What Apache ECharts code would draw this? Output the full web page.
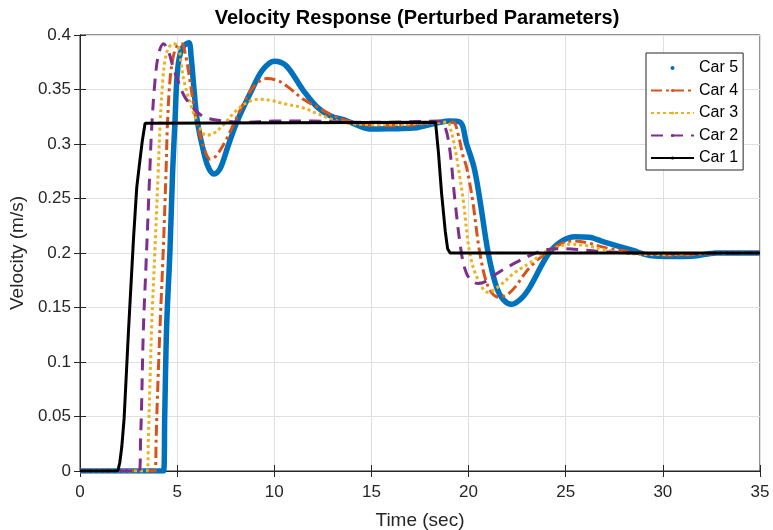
<!DOCTYPE html>
<html>
<head>
<meta charset="utf-8">
<title>Velocity Response</title>
<script src="https://cdn.jsdelivr.net/npm/echarts@6/dist/echarts.min.js"></script>
<style>
    html, body { margin: 0; padding: 0; background: #fff; }
    #chartEcharts { width: 773px; height: 530px; }
</style>
</head>
<body>
<div id="chartEcharts"></div>
<script>
// Data: [time (s), velocity (m/s)]
const car1 = [
    [0, 0], [1.95, 0], [2.05, 0.008], [2.15, 0.022], [2.27, 0.048], [2.5, 0.13], [2.75, 0.212],
    [2.92, 0.26], [3.05, 0.28], [3.2, 0.302], [3.35, 0.319], [3.45, 0.32],
    [18.3, 0.32], [18.45, 0.292], [18.61, 0.255], [18.8, 0.22], [18.92, 0.204], [19.05, 0.2], [35, 0.2]
];
const car2 = [
    [0, 0], [3.05, 0], [3.12, 0.03], [3.17, 0.06], [3.26, 0.129], [3.4, 0.19], [3.6, 0.278],
    [3.69, 0.315], [3.86, 0.358], [4.05, 0.383], [4.3, 0.392], [4.55, 0.385], [4.8, 0.37],
    [5.06, 0.357], [5.4, 0.343], [6.0, 0.33], [6.5, 0.324], [7.5, 0.321], [8.5, 0.32],
    [10, 0.321], [12, 0.321], [14, 0.32], [16, 0.32], [18.5, 0.321], [18.8, 0.315],
    [19.04, 0.294], [19.3, 0.248], [19.64, 0.199], [19.9, 0.181], [20.2, 0.174], [20.5, 0.172],
    [21.0, 0.175], [21.44, 0.181], [22.3, 0.19], [23.33, 0.199], [24.0, 0.203], [24.8, 0.204],
    [25.8, 0.203], [27, 0.201], [28.5, 0.2], [30, 0.1995], [35, 0.2]
];
const car3 = [
    [0, 0], [3.45, 0], [3.52, 0.03], [3.6, 0.08], [3.69, 0.134], [3.85, 0.2], [4.03, 0.276],
    [4.12, 0.318], [4.26, 0.358], [4.37, 0.376], [4.55, 0.388], [4.8, 0.392], [5.05, 0.39],
    [5.2, 0.375], [5.35, 0.358], [5.7, 0.336], [6.09, 0.318], [6.5, 0.308], [6.9, 0.31],
    [7.4, 0.318], [8.0, 0.33], [8.6, 0.338], [9.2, 0.341], [9.8, 0.34], [10.5, 0.337],
    [11.5, 0.333], [12.2, 0.328], [12.9, 0.323], [13.8, 0.319], [15, 0.318], [16.5, 0.318],
    [17.5, 0.319], [18.9, 0.32], [19.1, 0.312], [19.3, 0.296], [19.47, 0.2785], [19.73, 0.248],
    [20.07, 0.199], [20.5, 0.175], [21.0, 0.164], [21.6, 0.17], [22.3, 0.181], [23.33, 0.193],
    [23.85, 0.2], [24.5, 0.205], [25.2, 0.208], [26, 0.207], [27, 0.203], [28, 0.2],
    [29.5, 0.1985], [31, 0.199], [33, 0.2], [35, 0.2]
];
const car4 = [
    [0, 0], [3.85, 0], [3.92, 0.03], [3.97, 0.06], [4.12, 0.133], [4.28, 0.2], [4.43, 0.276],
    [4.5, 0.318], [4.63, 0.358], [4.8, 0.38], [5.0, 0.39], [5.23, 0.392], [5.45, 0.38],
    [5.66, 0.358], [6.0, 0.321], [6.43, 0.294], [6.7, 0.286], [7.0, 0.289], [7.5, 0.303],
    [7.95, 0.32], [8.5, 0.34], [9.0, 0.354], [9.6, 0.36], [10.2, 0.358], [10.8, 0.351],
    [11.5, 0.341], [12.2, 0.334], [12.9, 0.327], [13.6, 0.322], [14.5, 0.318], [15.5, 0.317],
    [16.5, 0.317], [17.5, 0.318], [18.5, 0.32], [19.2, 0.32], [19.45, 0.31], [19.7, 0.29],
    [19.9, 0.2785], [20.21, 0.248], [20.59, 0.199], [21.02, 0.1687], [21.53, 0.1595],
    [22.0, 0.162], [22.39, 0.1687], [23.16, 0.187], [24.0, 0.2], [24.7, 0.208], [25.4, 0.211],
    [26.2, 0.209], [27, 0.205], [28.8, 0.2], [30.5, 0.198], [32, 0.1988], [33.5, 0.2], [35, 0.2]
];
const car5 = [
    [0, 0], [4.3, 0], [4.36, 0.05], [4.46, 0.133], [4.63, 0.202], [4.77, 0.276], [4.89, 0.321],
    [4.98, 0.358], [5.1, 0.378], [5.3, 0.389], [5.6, 0.393], [5.72, 0.38], [5.83, 0.358],
    [6.04, 0.321], [6.43, 0.288], [6.65, 0.277], [6.9, 0.2725], [7.2, 0.277], [7.6, 0.297],
    [8.07, 0.32], [8.83, 0.349], [9.4, 0.368], [10.0, 0.376], [10.6, 0.372], [11.5, 0.349],
    [12.2, 0.334], [12.87, 0.326], [13.73, 0.3213], [14.3, 0.317], [15.0, 0.3137], [16, 0.314],
    [17.15, 0.3146], [17.8, 0.317], [18.53, 0.3198], [19.0, 0.321], [19.56, 0.32], [19.9, 0.3],
    [20.28, 0.2785], [20.59, 0.248], [21.02, 0.199], [21.44, 0.1687], [21.8, 0.157],
    [22.22, 0.153], [22.7, 0.158], [23.16, 0.1687], [24.1, 0.199], [24.8, 0.211], [25.5, 0.215],
    [26.2, 0.2145], [27, 0.21], [28.47, 0.2023], [29.33, 0.1977], [30.5, 0.1968], [31.5, 0.197],
    [32.75, 0.2], [35, 0.2]
];
const legendNames = ['Car 5', 'Car 4', 'Car 3', 'Car 2', 'Car 1'];

const axisColor = '#262626';
const gridColor = '#dfdfdf';
const fontFamily = '"Liberation Sans", Arial, sans-serif';

let myChart = echarts.init(document.getElementById('chartEcharts'));

const tickCfg = { show: true, inside: true, length: 6, lineStyle: { color: axisColor } };

let option = {
    backgroundColor: '#fff',
    animation: false,
    title: {
        text: 'Velocity Response (Perturbed Parameters)',
        left: 412,
        top: 3,
        textAlign: 'center',
        textStyle: { fontFamily: fontFamily, fontSize: 20, fontWeight: 'bold', color: '#000' }
    },
    grid: {
        left: 80, right: 13, top: 35, bottom: 59,
        containLabel: false,
        outerBoundsMode: 'none',
        show: true,
        borderColor: axisColor,
        borderWidth: 1
    },
    legend: {
        orient: 'vertical',
        left: 646,
        top: 53,
        padding: [7, 5, 4, 4],
        itemWidth: 43,
        itemHeight: 4,
        itemGap: 6.5,
        backgroundColor: '#fff',
        borderColor: axisColor,
        borderWidth: 1,
        borderRadius: 0,
        textStyle: { fontFamily: fontFamily, fontSize: 16, lineHeight: 16, color: '#000' },
        data: [
            { name: legendNames[0], icon: 'circle' },
            { name: legendNames[1] },
            { name: legendNames[2] },
            { name: legendNames[3] },
            { name: legendNames[4] }
        ]
    },
    xAxis: [{
        type: 'value',
        min: 0, max: 35, interval: 5,
        name: 'Time (sec)',
        nameLocation: 'middle',
        nameGap: 40,
        nameTextStyle: { fontFamily: fontFamily, fontSize: 19, color: axisColor },
        axisLine: { show: true, lineStyle: { color: axisColor } },
        axisTick: tickCfg,
        axisLabel: { margin: 13, fontFamily: fontFamily, fontSize: 17, color: axisColor },
        splitLine: { show: true, lineStyle: { color: gridColor } }
    }, {
        type: 'value',
        position: 'top',
        min: 0, max: 35, interval: 5,
        axisLine: { show: true, lineStyle: { color: axisColor } },
        axisTick: tickCfg,
        axisLabel: { show: false },
        splitLine: { show: false }
    }],
    yAxis: [{
        type: 'value',
        min: 0, max: 0.4, interval: 0.05,
        name: 'Velocity (m/s)',
        nameLocation: 'middle',
        nameGap: 53,
        nameTextStyle: { fontFamily: fontFamily, fontSize: 19, color: axisColor },
        axisLine: { show: true, lineStyle: { color: axisColor } },
        axisTick: tickCfg,
        axisLabel: { margin: 9, fontFamily: fontFamily, fontSize: 17, color: axisColor },
        splitLine: { show: true, lineStyle: { color: gridColor } }
    }, {
        type: 'value',
        position: 'right',
        min: 0, max: 0.4, interval: 0.05,
        axisLine: { show: true, lineStyle: { color: axisColor } },
        axisTick: tickCfg,
        axisLabel: { show: false },
        splitLine: { show: false }
    }],
    series: [{
        name: 'Car 5',
        type: 'line',
        data: car5,
        smooth: 0.35,
        symbol: 'none',
        itemStyle: { color: '#0072BD' },
        lineStyle: { color: '#0072BD', width: 5.5 }
    }, {
        name: 'Car 4',
        type: 'line',
        data: car4,
        smooth: 0.35,
        symbol: 'none',
        itemStyle: { color: '#D95319' },
        lineStyle: { color: '#D95319', width: 3, type: [11, 4, 3, 4] }
    }, {
        name: 'Car 3',
        type: 'line',
        data: car3,
        smooth: 0.35,
        symbol: 'none',
        itemStyle: { color: '#EDB120' },
        lineStyle: { color: '#EDB120', width: 3, type: [3, 3] }
    }, {
        name: 'Car 2',
        type: 'line',
        data: car2,
        smooth: 0.35,
        symbol: 'none',
        itemStyle: { color: '#7E2F8E' },
        lineStyle: { color: '#7E2F8E', width: 3, type: [12, 8] }
    }, {
        name: 'Car 1',
        type: 'line',
        data: car1,
        smooth: false,
        symbol: 'none',
        itemStyle: { color: '#000' },
        lineStyle: { color: '#000', width: 3 }
    }]
};

if (option && typeof option === "object") {
    myChart.setOption(option, true);
}
</script>
</body>
</html>
